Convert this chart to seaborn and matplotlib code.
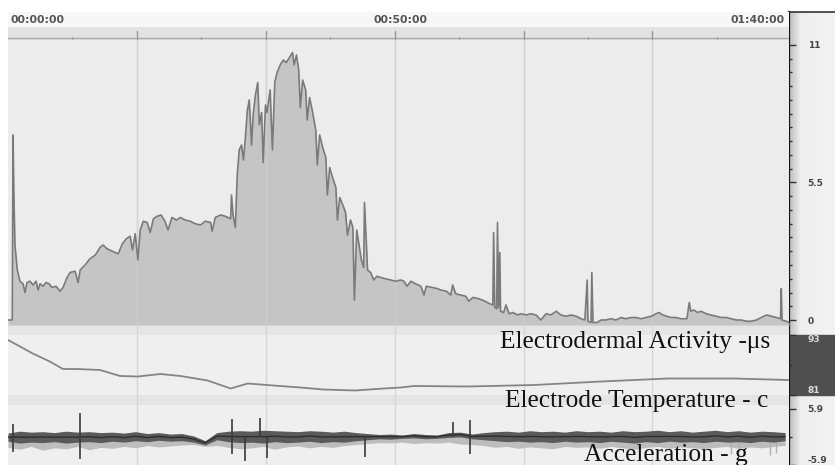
import numpy as np
import pandas as pd
import matplotlib
matplotlib.use("Agg")
import matplotlib.pyplot as plt
import seaborn as sns
from matplotlib.ticker import FixedLocator

# ---------------- data (minutes / values) ----------------
eda_min = [0.0, 0.55, 0.65, 0.75, 0.9, 1.2, 1.55, 1.94, 2.2, 2.46, 2.85, 3.24, 3.63, 3.89, 4.15,
           4.53, 4.92, 5.31, 5.7, 6.22, 6.74, 7.12, 7.64, 8.03, 8.68, 9.07, 9.33, 9.97, 10.6,
           11.3, 11.9, 12.3, 12.8, 13.5, 14.25, 14.8, 15.3, 15.8, 16.1, 16.45, 16.8, 17.1,
           17.5, 18.0, 18.4, 18.8, 19.3, 19.8, 20.3, 20.7, 21.2, 21.8, 22.3, 22.9, 23.6, 24.2,
           24.9, 25.5, 26.2, 26.4, 26.8, 27.5, 28.1, 28.8, 28.9, 29.1, 29.4, 29.65, 29.9, 30.2,
           30.45, 30.7, 30.96, 31.2, 31.5, 31.7, 32.0, 32.3, 32.5, 32.8, 33.0, 33.3, 33.5, 33.9,
           34.2, 34.5, 34.8, 35.2, 35.6, 36.0, 36.4, 36.8, 37.0, 37.3, 37.6, 37.8, 38.1, 38.5,
           38.7, 39.0, 39.4, 39.8, 40.0, 40.3, 40.7, 41.1, 41.3, 41.6, 41.97, 42.4, 42.6, 42.9,
           43.3, 43.65, 43.9, 44.3, 44.6, 44.8, 45.1, 45.3, 45.7, 46.0, 46.1, 46.5, 46.9, 47.3,
           47.7, 48.2, 48.8, 49.5, 50.1, 50.8, 51.2, 51.6, 52.1, 52.7, 53.4, 53.8, 54.1, 54.9,
           55.6, 55.96, 56.7, 57.25, 57.5, 57.9, 58.5, 59.2, 59.6, 60.1, 60.9, 61.7, 62.3, 62.7,
           62.8, 62.95, 63.2, 63.3, 63.45, 63.6, 63.7, 64.1, 64.4, 64.8, 65.3, 65.9, 66.3, 67.0,
           67.6, 68.3, 68.9, 69.6, 70.2, 70.9, 71.5, 72.2, 72.8, 73.5, 74.1, 74.6, 74.9, 75.0,
           75.4, 75.5, 75.65, 76.2, 76.7, 77.3, 78.0, 78.6, 79.3, 79.9, 80.6, 81.2, 81.9, 82.5,
           83.2, 83.8, 84.2, 84.7, 85.2, 85.75, 86.4, 87.0, 87.8, 88.1, 88.3, 88.7, 89.2, 89.6,
           90.3, 90.9, 91.6, 92.2, 92.9, 93.5, 94.2, 94.8, 95.5, 96.1, 96.8, 97.4, 98.1, 98.7,
           99.4, 99.9, 100.0, 100.1, 100.65, 101.0]
eda_us = [0.0, 0.0, 7.4, 5.2, 3.0, 2.0, 1.55, 1.45, 1.1, 1.5, 1.55, 1.4, 1.55, 1.2, 1.45,
          1.35, 1.5, 1.45, 1.3, 1.35, 1.15, 1.3, 1.7, 1.9, 1.95, 1.5, 2.0, 2.2, 2.45,
          2.6, 2.9, 3.0, 2.85, 2.75, 2.65, 3.05, 3.25, 3.35, 2.8, 3.45, 2.4, 3.6,
          3.95, 3.9, 3.5, 4.05, 4.15, 4.2, 3.95, 3.6, 4.1, 4.0, 4.1, 4.0, 3.95, 3.85,
          3.8, 3.95, 3.9, 3.55, 4.1, 4.2, 4.15, 4.05, 5.0, 4.2, 3.7, 5.8, 6.8, 7.0,
          6.4, 7.3, 8.4, 8.8, 7.0, 8.2, 9.0, 9.5, 7.8, 8.3, 6.3, 8.6, 8.3, 9.2,
          6.8, 9.5, 9.9, 10.2, 10.4, 10.3, 10.5, 10.7, 10.2, 10.6, 10.0, 8.5, 9.6, 9.2,
          8.0, 8.9, 8.3, 7.6, 6.2, 7.4, 6.9, 6.5, 5.0, 6.1, 5.7, 5.3, 4.0, 4.9,
          4.6, 4.3, 3.4, 4.0, 3.7, 0.8, 3.6, 3.2, 2.4, 2.1, 4.7, 2.0, 1.9, 1.6,
          1.75, 1.7, 1.65, 1.6, 1.55, 1.6, 1.55, 1.35, 1.55, 1.45, 1.35, 1.0, 1.35, 1.3,
          1.25, 1.2, 1.15, 1.0, 1.4, 1.05, 1.0, 0.95, 0.75, 0.9, 0.85, 0.75, 0.65, 0.6,
          3.5, 0.5, 0.45, 3.9, 0.5, 2.7, 0.35, 0.3, 0.6, 0.25, 0.3, 0.2, 0.25, 0.2,
          0.25, 0.2, 0.0, 0.25, 0.2, 0.35, 0.2, 0.15, 0.2, 0.15, 0.05, 0.0, 1.6, -0.05,
          -0.1, 1.9, -0.1, -0.1, 0.0, 0.0, 0.05, 0.0, 0.1, 0.05, 0.1, 0.1, 0.05, 0.1,
          0.15, 0.25, 0.3, 0.2, 0.15, 0.1, 0.1, 0.05, 0.05, 0.7, 0.35, 0.4, 0.3, 0.35,
          0.25, 0.2, 0.15, 0.1, 0.1, 0.05, 0.0, 0.0, -0.05, -0.05, 0.0, 0.1, 0.2, 0.15,
          0.1, 0.05, 1.25, 0.0, -0.05, -0.1]

temp_min = [0.0, 1.2, 3.2, 5.4, 7.1, 8.9, 11.9, 14.5, 16.8, 19.7, 22.3, 25.8, 28.8, 31.0,
            34.3, 37.8, 40.8, 44.9, 48.6, 50.8, 52.5, 59.5, 68.0, 76.7, 85.4, 93.9, 100.9]
temp_c = [92.0, 91.0, 89.3, 87.7, 86.2, 86.2, 86.0, 84.8, 84.7, 85.2, 84.8, 83.9, 82.3, 83.3,
          82.9, 82.5, 82.1, 81.9, 82.3, 82.5, 82.8, 82.7, 83.0, 83.7, 84.3, 84.3, 84.0]

# acceleration: envelope of the dense traces, sampled every 1.5 min
acc_step_min = 1.5
acc_hi = [0.8, 1.2, 1.0, 1.1, 0.9, 1.2, 1.0, 1.1, 0.9, 1.0, 0.8, 1.1, 0.7, 0.9, 0.6, 0.7,
          0.2, -0.8, 0.9, 1.2, 1.3, 1.2, 1.4, 1.3, 1.2, 1.1, 1.3, 1.2, 1.0, 1.2, 0.9, 0.7,
          0.5, 0.6, 0.4, 0.7, 0.5, 0.4, 0.9, 1.0, 0.6, 0.9, 1.1, 1.2, 1.0, 1.3, 1.1, 1.2,
          1.0, 1.3, 1.1, 1.2, 1.0, 1.3, 1.1, 1.2, 1.4, 1.1, 1.3, 1.0, 1.2, 1.4, 1.1, 1.3,
          1.0, 1.2, 1.1, 0.9]
acc_lo = [-0.9, -1.3, -1.1, -1.2, -1.0, -1.3, -1.1, -1.0, -1.2, -0.9, -1.1, -0.8, -1.0, -0.7,
          -0.9, -0.8, -1.1, -1.7, -0.6, -1.0, -1.2, -1.1, -1.3, -1.0, -1.2, -1.1, -0.9, -1.2,
          -1.0, -1.1, -0.8, -0.6, -0.4, -0.5, -0.3, -0.2, -0.4, -0.3, -0.1, 0.0, -0.4, -0.6,
          -0.8, -1.0, -0.9, -1.1, -1.0, -1.2, -0.9, -1.1, -1.0, -1.2, -0.9, -1.1, -1.3, -1.0,
          -1.2, -0.9, -1.1, -1.0, -1.2, -0.9, -1.1, -1.0, -1.2, -0.9, -1.1, -0.8]
acc_light_lo = [-2.2, -2.6, -2.0, -2.8, -2.3, -2.5, -2.0, -2.7, -2.2, -2.4, -2.0, -2.3, -1.8,
                -2.1, -1.9, -1.7, -1.6, -2.0, -1.8, -2.2, -2.5, -2.3, -2.0, -2.6, -2.1, -1.9,
                -2.3, -2.0, -2.2, -1.8, -1.6, -1.4, -1.2, -1.3, -1.1, -1.4, -1.2, -1.3, -1.1,
                -1.5, -1.6, -1.8, -2.2, -2.0, -2.4, -2.1, -2.3, -2.5, -2.0, -2.2, -2.1, -2.4,
                -2.0, -2.3, -2.6, -2.2, -2.0, -2.4, -2.1, -2.3, -2.5, -2.2, -2.0, -2.4, -2.1,
                -2.3, -2.0, -1.8]
acc_min = [i * acc_step_min for i in range(len(acc_hi))]
acc_mid = [(a + b) / 2 for a, b in zip(acc_hi, acc_lo)]
# isolated spikes: time, low, high
spike_min = [0.65, 9.3, 29.0, 30.7, 32.6, 33.5, 46.2, 57.5, 59.8]
spike_lo = [-3.2, -4.6, -3.6, -5.0, 0.0, -4.5, -4.3, 0.0, -3.5]
spike_hi = [2.8, 5.0, 3.8, 0.0, 4.0, 0.0, 0.0, 3.2, 3.6]
lspike_min = [93.5, 94.5, 98.5, 99.3]
lspike_lo = [-3.6, -3.2, -3.8, -3.4]

time_ticks = [0, 50, 100]
time_labels = ["00:00:00", "00:50:00", "01:40:00"]
grid_min = [1000 / 60 * k for k in range(1, 6)]
eda_ticks, eda_labels = [0, 5.5, 11], ["0", "5.5", "11"]
temp_ticks, temp_labels = [81, 93], ["81", "93"]
acc_ticks, acc_labels = [-5.9, 5.9], ["-5.9", "5.9"]

# ---------------- figure / layout ----------------
sns.set_style("white")
W, H = 835, 465
fig = plt.figure(figsize=(W / 100, H / 100), dpi=100, facecolor="white")

def px_axes(x0, y0, x1, y1, **kw):
    return fig.add_axes([x0 / W, 1 - y1 / H, (x1 - x0) / W, (y1 - y0) / H], **kw)

XL = (0, 101)
X0, X1 = 8, 789
serif = ["Liberation Serif", "DejaVu Serif"]

# right-hand scale panel (drawn first, underneath)
rp = px_axes(X1, 12, W, H)
grad = np.concatenate([np.linspace(0.74, 0.93, 12), np.linspace(0.93, 0.95, 34)])[None, :]
rp.imshow(grad, cmap="gray", vmin=0, vmax=1, aspect="auto", extent=(0, 1, 0, 1))
rp.set_xlim(0, 1); rp.set_ylim(0, 1)
rp.add_patch(plt.Rectangle((0, 1 - (395 - 12) / (H - 12)), 1, 60 / (H - 12),
                           color="#4f4f4f", zorder=2))
rp.set_xticks([]); rp.set_yticks([])
for s in ["right", "bottom"]:
    rp.spines[s].set_visible(False)
rp.spines["left"].set_color("#111111"); rp.spines["left"].set_linewidth(1.6)
rp.spines["top"].set_color("#333333"); rp.spines["top"].set_linewidth(1.2)

# header: time labels + ruler
hd = px_axes(X0, 12, X1, 40)
hd.set_xlim(*XL); hd.set_ylim(0, 28)
hd.axhspan(0, 13, color="#e3e3e3", lw=0)
hd.axhspan(13, 28, color="#f7f7f7", lw=0)
hd.axhline(1.5, color="#a9a9a9", lw=1)
for g in grid_min:
    hd.plot([g, g], [0, 9], color="#9a9a9a", lw=1)
for g in [grid_min[0] / 2 + k * grid_min[0] for k in range(6)]:
    hd.plot([g, g], [1, 3], color="#a8a8a8", lw=1)
for t, lab, ha, dx in zip(time_ticks, time_labels, ["left", "center", "right"], [0.3, 0.8, 0.4]):
    hd.text(t + dx, 20.5, lab, ha=ha, va="center", fontsize=7.8, fontweight="bold",
            color="#555555")
hd.set_xticks([]); hd.set_yticks([])
for s in hd.spines.values():
    s.set_visible(False)

# background for the three panels (bands)
bg = px_axes(X0, 40, X1, H)
bg.set_xlim(*XL); bg.set_ylim(H, 40)
bg.axhspan(40, 325, color="#ececec", lw=0)
bg.axhspan(325, 335, color="#e5e5e5", lw=0)
bg.axhspan(335, 395, color="#efefef", lw=0)
bg.axhspan(395, 405, color="#e4e4e4", lw=0)
bg.axhspan(405, H, color="#efefef", lw=0)
for g in grid_min:
    bg.axvline(g, color="#d6d6d6", lw=1)
bg.set_xticks([]); bg.set_yticks([])
for s in bg.spines.values():
    s.set_visible(False)

def style_panel(ax, ylim, ticks, labels, minor=None):
    ax.set_xlim(*XL); ax.set_ylim(*ylim)
    ax.set_facecolor("none")
    for s in ax.spines.values():
        s.set_visible(False)
    ax.set_xticks([])
    ax.yaxis.tick_right()
    ax.set_yticks(ticks, labels)
    if minor is not None:
        ax.yaxis.set_minor_locator(FixedLocator(minor))
    ax.tick_params(axis="y", which="major", direction="out", length=5, width=1,
                   color="#333333", pad=8.5, labelsize=6.5, labelcolor="#444444")
    ax.tick_params(axis="y", which="minor", direction="out", length=2.5, width=1,
                   color="#333333")
    for lab in ax.get_yticklabels():
        lab.set_fontweight("bold")
    ax.set_xlabel(""); ax.set_ylabel("")

# EDA panel
ax1 = px_axes(X0, 40, X1, 325)
eda = pd.DataFrame({"t": eda_min, "v": eda_us})
ax1.fill_between(eda["t"], eda["v"], -0.2, color="#c5c5c5", lw=0, zorder=1)
for g in grid_min:
    ax1.axvline(g, color="#d4d4d4", lw=1, alpha=0.55, zorder=1.5)
sns.lineplot(data=eda, x="t", y="v", ax=ax1, color="#7a7a7a", lw=1.2,
             estimator=None, sort=False, zorder=2)
style_panel(ax1, (-0.2, 11.2), eda_ticks, eda_labels,
            minor=[0.55 * k for k in range(21)])

# temperature panel
ax2 = px_axes(X0, 335, X1, 395)
tmp = pd.DataFrame({"t": temp_min, "v": temp_c})
sns.lineplot(data=tmp, x="t", y="v", ax=ax2, color="#858585", lw=1.3,
             estimator=None, sort=True, zorder=2)
style_panel(ax2, (81, 93), temp_ticks, temp_labels, minor=[87])
for lab in ax2.get_yticklabels():
    lab.set_color("#dddddd")
ax2.get_yticklabels()[0].set_va("bottom")
ax2.get_yticklabels()[1].set_va("top")

# acceleration panel
ax3 = px_axes(X0, 405, X1, H)
acc = pd.DataFrame({"t": acc_min, "hi": acc_hi, "lo": acc_lo, "mid": acc_mid,
                    "llo": acc_light_lo})
ax3.fill_between(acc["t"], acc["llo"], acc["mid"], color="#bdbdbd", lw=0, zorder=1)
ax3.fill_between(acc["t"], acc["lo"], acc["hi"], color="#5a5a5a", lw=0, zorder=2)
sns.lineplot(data=acc, x="t", y="mid", ax=ax3, color="#2e2e2e", lw=1.0,
             estimator=None, zorder=3)
ax3.vlines(spike_min, spike_lo, spike_hi, color="#3a3a3a", lw=1.2, zorder=3)
ax3.vlines(lspike_min, lspike_lo, 0, color="#b0b0b0", lw=1.0, zorder=1)
style_panel(ax3, (-5.9, 6.7), acc_ticks, acc_labels, minor=[0])
ax3.get_yticklabels()[0].set_va("bottom")

# panel captions (serif, as in the reference)
fig.text(770 / W, 1 - 342 / H, "Electrodermal Activity -\u03bcs", ha="right", va="center",
         fontsize=18.3, family=serif, color="#111111")
fig.text(768 / W, 1 - 401 / H, "Electrode Temperature - c", ha="right", va="center",
         fontsize=18.3, family=serif, color="#111111")
fig.text(748 / W, 1 - 455 / H, "Acceleration - g", ha="right", va="center",
         fontsize=18.3, family=serif, color="#111111")

fig.savefig("out.png", dpi=100, facecolor="white")
